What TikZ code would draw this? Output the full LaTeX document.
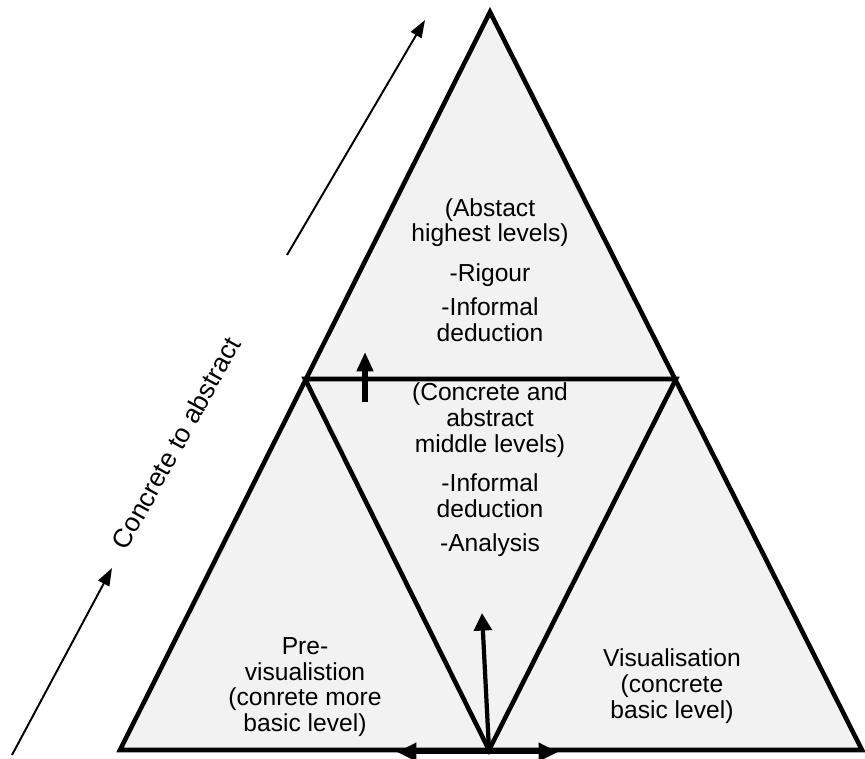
\documentclass[tikz,border=0pt]{standalone}
\usepackage{fontspec}
\setmainfont{Liberation Sans}
\usetikzlibrary{arrows.meta}
\definecolor{panel}{HTML}{F2F2F2}
\tikzset{
  tri/.style={draw=black,fill=panel,line width=2.6pt,line join=miter},
  lvltext/.style={align=center,font=\fontsize{14}{14.6}\selectfont,inner sep=0pt},
  bigarrow/.style={-{Triangle[length=11pt,width=9pt]},line width=3.6pt},
  midarrow/.style={-{Triangle[length=10pt,width=10pt]},line width=2.4pt},
  basearrow/.style={{Triangle[length=11pt,width=10pt]}-{Triangle[length=11pt,width=10pt]},line width=2.8pt},
  thinarrow/.style={-{Triangle[length=10pt,width=7pt]},line width=1.1pt}
}
\begin{document}
\begin{tikzpicture}[x=0.02cm,y=-0.02cm]
  \useasboundingbox (0,0) rectangle (865,758);
  % corners of the pyramid
  \coordinate (apex) at (490,12);
  \coordinate (bl) at (120,750);
  \coordinate (br) at (862,750);
  \coordinate (ml) at (305,379);
  \coordinate (mr) at (676,379);
  \coordinate (bm) at (489,750);
  \draw[tri] (apex) -- (br) -- (bl) -- cycle;
  \draw[tri,fill=none] (ml) -- (mr) -- (bm) -- cycle;
  % texts of the levels
  \node[lvltext] (top) at (490,270) {(Abstact\\highest levels)\\[8pt]-Rigour\\[5pt]-Informal\\deduction};
  \node[lvltext] (mid) at (490,470) {(Concrete and\\abstract\\middle levels)\\[8pt]-Informal\\deduction\\[5pt]-Analysis};
  \node[lvltext] (pre) at (305,687) {Pre-\\visualistion\\(conrete more\\basic level)};
  \node[lvltext] (vis) at (672,686) {Visualisation\\(concrete\\basic level)};
  % arrows inside
  \coordinate (up0) at (365,402);
  \coordinate (up1) at (365,352);
  \draw[bigarrow] (up0) -- (up1);
  \coordinate (v1) at (482,613);
  \draw[midarrow] (bm) -- (v1);
  \coordinate (b0) at (397,752);
  \coordinate (b1) at (558,752);
  \draw[basearrow] (b0) -- (b1);
  % direction on the left
  \coordinate (ca0) at (12,755);
  \coordinate (ca1) at (112,568);
  \coordinate (ca2) at (287,255);
  \coordinate (ca3) at (425,20);
  \draw[thinarrow] (ca0) -- (ca1);
  \draw[thinarrow] (ca2) -- (ca3);
  \node[lvltext,font=\fontsize{15}{16}\selectfont,rotate=61] (dir) at (176,443) {Concrete to abstract};
\end{tikzpicture}
\end{document}
